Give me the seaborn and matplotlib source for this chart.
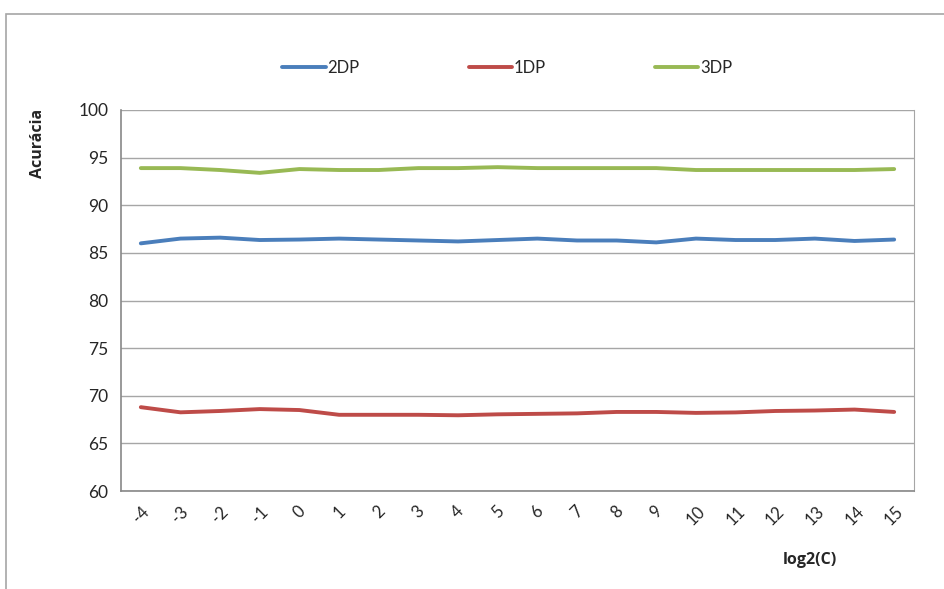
import matplotlib
matplotlib.use("Agg")
import matplotlib.pyplot as plt
import seaborn as sns
import pandas as pd
from matplotlib.patches import Rectangle

log2c = list(range(-4, 16))
acc_2dp = [86.0, 86.5, 86.6, 86.35, 86.4, 86.5, 86.4, 86.3, 86.2, 86.35,
           86.5, 86.3, 86.3, 86.1, 86.5, 86.35, 86.35, 86.5, 86.25, 86.4]
acc_1dp = [68.8, 68.26, 68.4, 68.6, 68.5, 68.0, 68.0, 68.0, 67.95, 68.05,
           68.1, 68.15, 68.3, 68.3, 68.2, 68.25, 68.4, 68.45, 68.55, 68.3]
acc_3dp = [93.9, 93.9, 93.7, 93.4, 93.8, 93.7, 93.7, 93.9, 93.9, 94.0,
           93.9, 93.9, 93.9, 93.9, 93.7, 93.7, 93.7, 93.7, 93.7, 93.8]

series = ['2DP', '1DP', '3DP']
colors = ['#4A7EBB', '#BE4B48', '#98B954']

df = pd.concat([
    pd.DataFrame({'log2(C)': log2c, 'Acurácia': vals, 'serie': name})
    for name, vals in zip(series, [acc_2dp, acc_1dp, acc_3dp])
])

sns.set_style('white')
plt.rcParams['font.family'] = ['Lato', 'DejaVu Sans']

fig = plt.figure(figsize=(9.44, 5.89), dpi=100)
ax = fig.add_axes([121 / 944, 1 - 491 / 589, 793 / 944, 381 / 589])

sns.lineplot(data=df, x='log2(C)', y='Acurácia', hue='serie', hue_order=series,
             palette=colors, linewidth=2.8, ax=ax)

ax.set_xlim(-4.5, 15.5)
ax.set_ylim(60, 100)
ax.set_yticks(range(60, 101, 5))
ax.set_xticks(log2c)
ax.set_xticks([x + 0.5 for x in range(-5, 16)], minor=True)
ax.set_xticklabels([str(v) for v in log2c], rotation=45, ha='center', fontsize=12)
ax.tick_params(axis='x', which='major', length=0, pad=9)
ax.tick_params(axis='x', which='minor', length=5, color='#888888', width=1)
ax.tick_params(axis='y', length=5, color='#888888', width=1, labelsize=12.5, pad=4)
ax.yaxis.grid(True, color='#A6A6A6', linewidth=1)
for side in ['left', 'bottom']:
    ax.spines[side].set_color('#888888')
    ax.spines[side].set_linewidth(1.2)
ax.spines['right'].set_color('#A6A6A6')
ax.spines['top'].set_visible(False)

ax.set_xlabel('')
ax.set_ylabel('')
fig.text(38 / 944, 1 - 143 / 589, 'Acurácia', rotation=90, ha='center', va='center',
         fontsize=11.5, fontweight='bold', family=['Open Sans', 'DejaVu Sans'])
fig.text(810 / 944, 1 - 560 / 589, 'log2(C)', ha='center', va='center',
         fontsize=11.5, fontweight='bold', family=['Open Sans', 'DejaVu Sans'])

ax.legend(loc='upper center', bbox_to_anchor=(0.487, 1.17), ncol=3, frameon=False,
          fontsize=12, handlelength=2.6, handletextpad=0.1, columnspacing=6.55,
          title=None)

fig.patches.append(Rectangle((6 / 944, -0.01), 1.0, 1 - 14 / 589 + 0.01,
                             transform=fig.transFigure, fill=False,
                             edgecolor='#A6A6A6', linewidth=1.2))

fig.savefig('out.png', dpi=100)
